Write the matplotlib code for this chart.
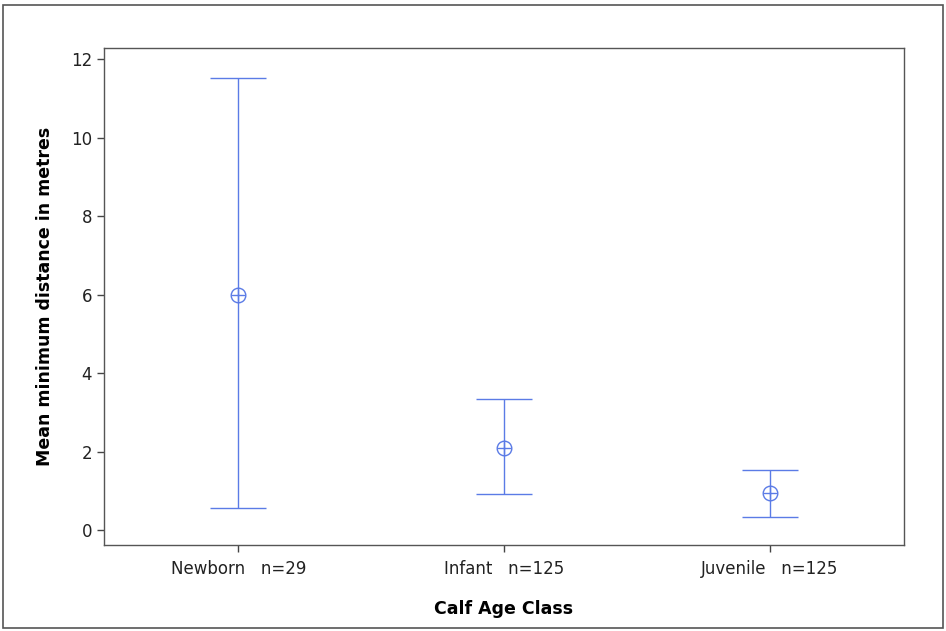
import matplotlib.pyplot as plt
from matplotlib.patches import Rectangle

# values
categories = ["Newborn   n=29", "Infant   n=125", "Juvenile   n=125"]
means = [6.0, 2.09, 0.94]
upper = [11.52, 3.34, 1.53]
lower = [0.56, 0.92, 0.33]

blue = "#5b7be6"

fig = plt.figure(figsize=(9.46, 6.31), dpi=100)
fig.patches.append(Rectangle((0.003, 0.005), 0.994, 0.987, transform=fig.transFigure,
                             fill=False, edgecolor="#555555", linewidth=1.2))
ax = fig.add_axes([104 / 946, 1 - 545 / 631, 800 / 946, 497 / 631])

x = list(range(len(categories)))
err = [[m - l for m, l in zip(means, lower)], [u - m for m, u in zip(means, upper)]]
ax.errorbar(x, means, yerr=err, fmt="none", ecolor=blue, elinewidth=1.0,
            capsize=20, capthick=1.0)
ax.plot(x, means, "o", mfc="none", mec=blue, ms=10.5, mew=1.0)
ax.plot(x, means, "+", color=blue, ms=10.5, mew=1.0)

ax.set_xlim(-0.505, 2.505)
ax.set_ylim(-0.38, 12.28)
ax.set_yticks(range(0, 13, 2))
ax.set_xticks(x)
ax.set_xticklabels(categories)
ax.tick_params(axis="both", labelsize=12, length=5, width=1, color="#444444",
               labelcolor="#222222")
ax.tick_params(axis="x", pad=6)
for s in ax.spines.values():
    s.set_color("#555555")
    s.set_linewidth(1.0)

ax.set_xlabel("Calf Age Class", fontsize=12.5, fontweight="bold", labelpad=16)
ax.set_ylabel("Mean minimum distance in metres", fontsize=12.5, fontweight="bold", labelpad=12)

fig.savefig("out.png", dpi=100)
